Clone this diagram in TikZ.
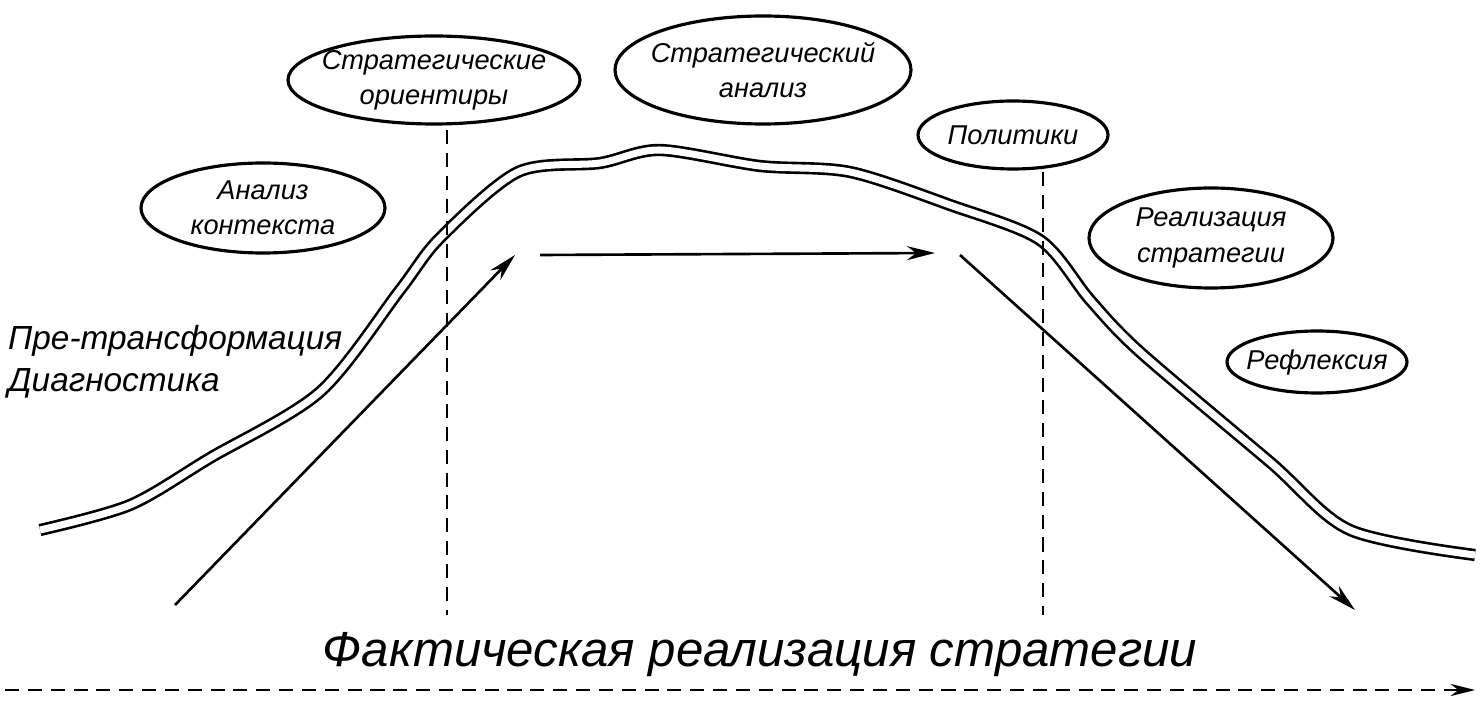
\documentclass[tikz,border=0pt]{standalone}
\usepackage{fontspec}
\setmainfont{Liberation Sans}
\usetikzlibrary{arrows.meta, positioning}

\begin{document}
\begin{tikzpicture}[x=0.02cm,y=-0.02cm,
   label/.style={align=center,inner sep=0pt,font=\fontsize{15.5}{20}\selectfont\itshape},
   oval/.style={line width=1.8pt},
   guide/.style={line width=1.1pt,dash pattern=on 8pt off 5pt},
   move/.style={-{Stealth[length=16pt,width=8pt]},line width=1.5pt}]
   \useasboundingbox (0,0) rectangle (1482,702);
   % ellipses
   \node[label] (orient) at (434,80) {Стратегические\\ориентиры};
   \draw[oval] (orient.center) ellipse [x radius=146, y radius=44];
   \node[label] (anal) at (763,70) {Стратегический\\анализ};
   \draw[oval] (anal.center) ellipse [x radius=148, y radius=54];
   \node[label] (polit) at (1013,135) {Политики};
   \draw[oval] (polit.center) ellipse [x radius=95, y radius=34];
   \node[label] (context) at (263,208) {Анализ\\контекста};
   \draw[oval] (context.center) ellipse [x radius=122, y radius=45];
   \node[label] (real) at (1211,238) {Реализация\\стратегии};
   \draw[oval] (real.center) ellipse [x radius=122, y radius=50];
   \node[label] (refl) at (1317,362) {Рефлексия};
   \draw[oval] (refl.center) ellipse [x radius=90, y radius=31];
   \node[anchor=west,align=left,font=\fontsize{19}{24}\selectfont\itshape] (pre) at (2,362) {Пре-трансформация\\Диагностика};
   % double curve
   \draw[double distance=4pt,line width=1.5pt] plot[smooth,tension=0.5] coordinates {
      (40,530) (130,505) (210,458) (320,392) (400,290) (440,238) (518,172)
      (600,163) (660,150) (760,166) (850,172) (950,205) (1040,240) (1090,300)
      (1140,352) (1270,462) (1350,530) (1475,555)};
   % guides
   \coordinate (g1t) at (447,130); \coordinate (g1b) at (447,615);
   \coordinate (g2t) at (1043,172); \coordinate (g2b) at (1043,615);
   \draw[guide] (g1t) -- (g1b);
   \draw[guide] (g2t) -- (g2b);
   % arrows
   \coordinate (a0) at (175,605); \coordinate (a1) at (515,255);
   \coordinate (b0) at (540,255); \coordinate (b1) at (935,253);
   \coordinate (c0) at (960,255); \coordinate (c1) at (1355,610);
   \draw[move] (a0) -- (a1);
   \draw[move] (b0) -- (b1);
   \draw[move] (c0) -- (c1);
   % bottom
   \node[font=\fontsize{28}{30}\selectfont\itshape] (fact) at (760,655) {Фактическая реализация стратегии};
   \coordinate (t0) at (5,690); \coordinate (t1) at (1475,690);
   \draw[guide,-{Stealth[length=14pt,width=7pt]}] (t0) -- (t1);
\end{tikzpicture}
\end{document}
